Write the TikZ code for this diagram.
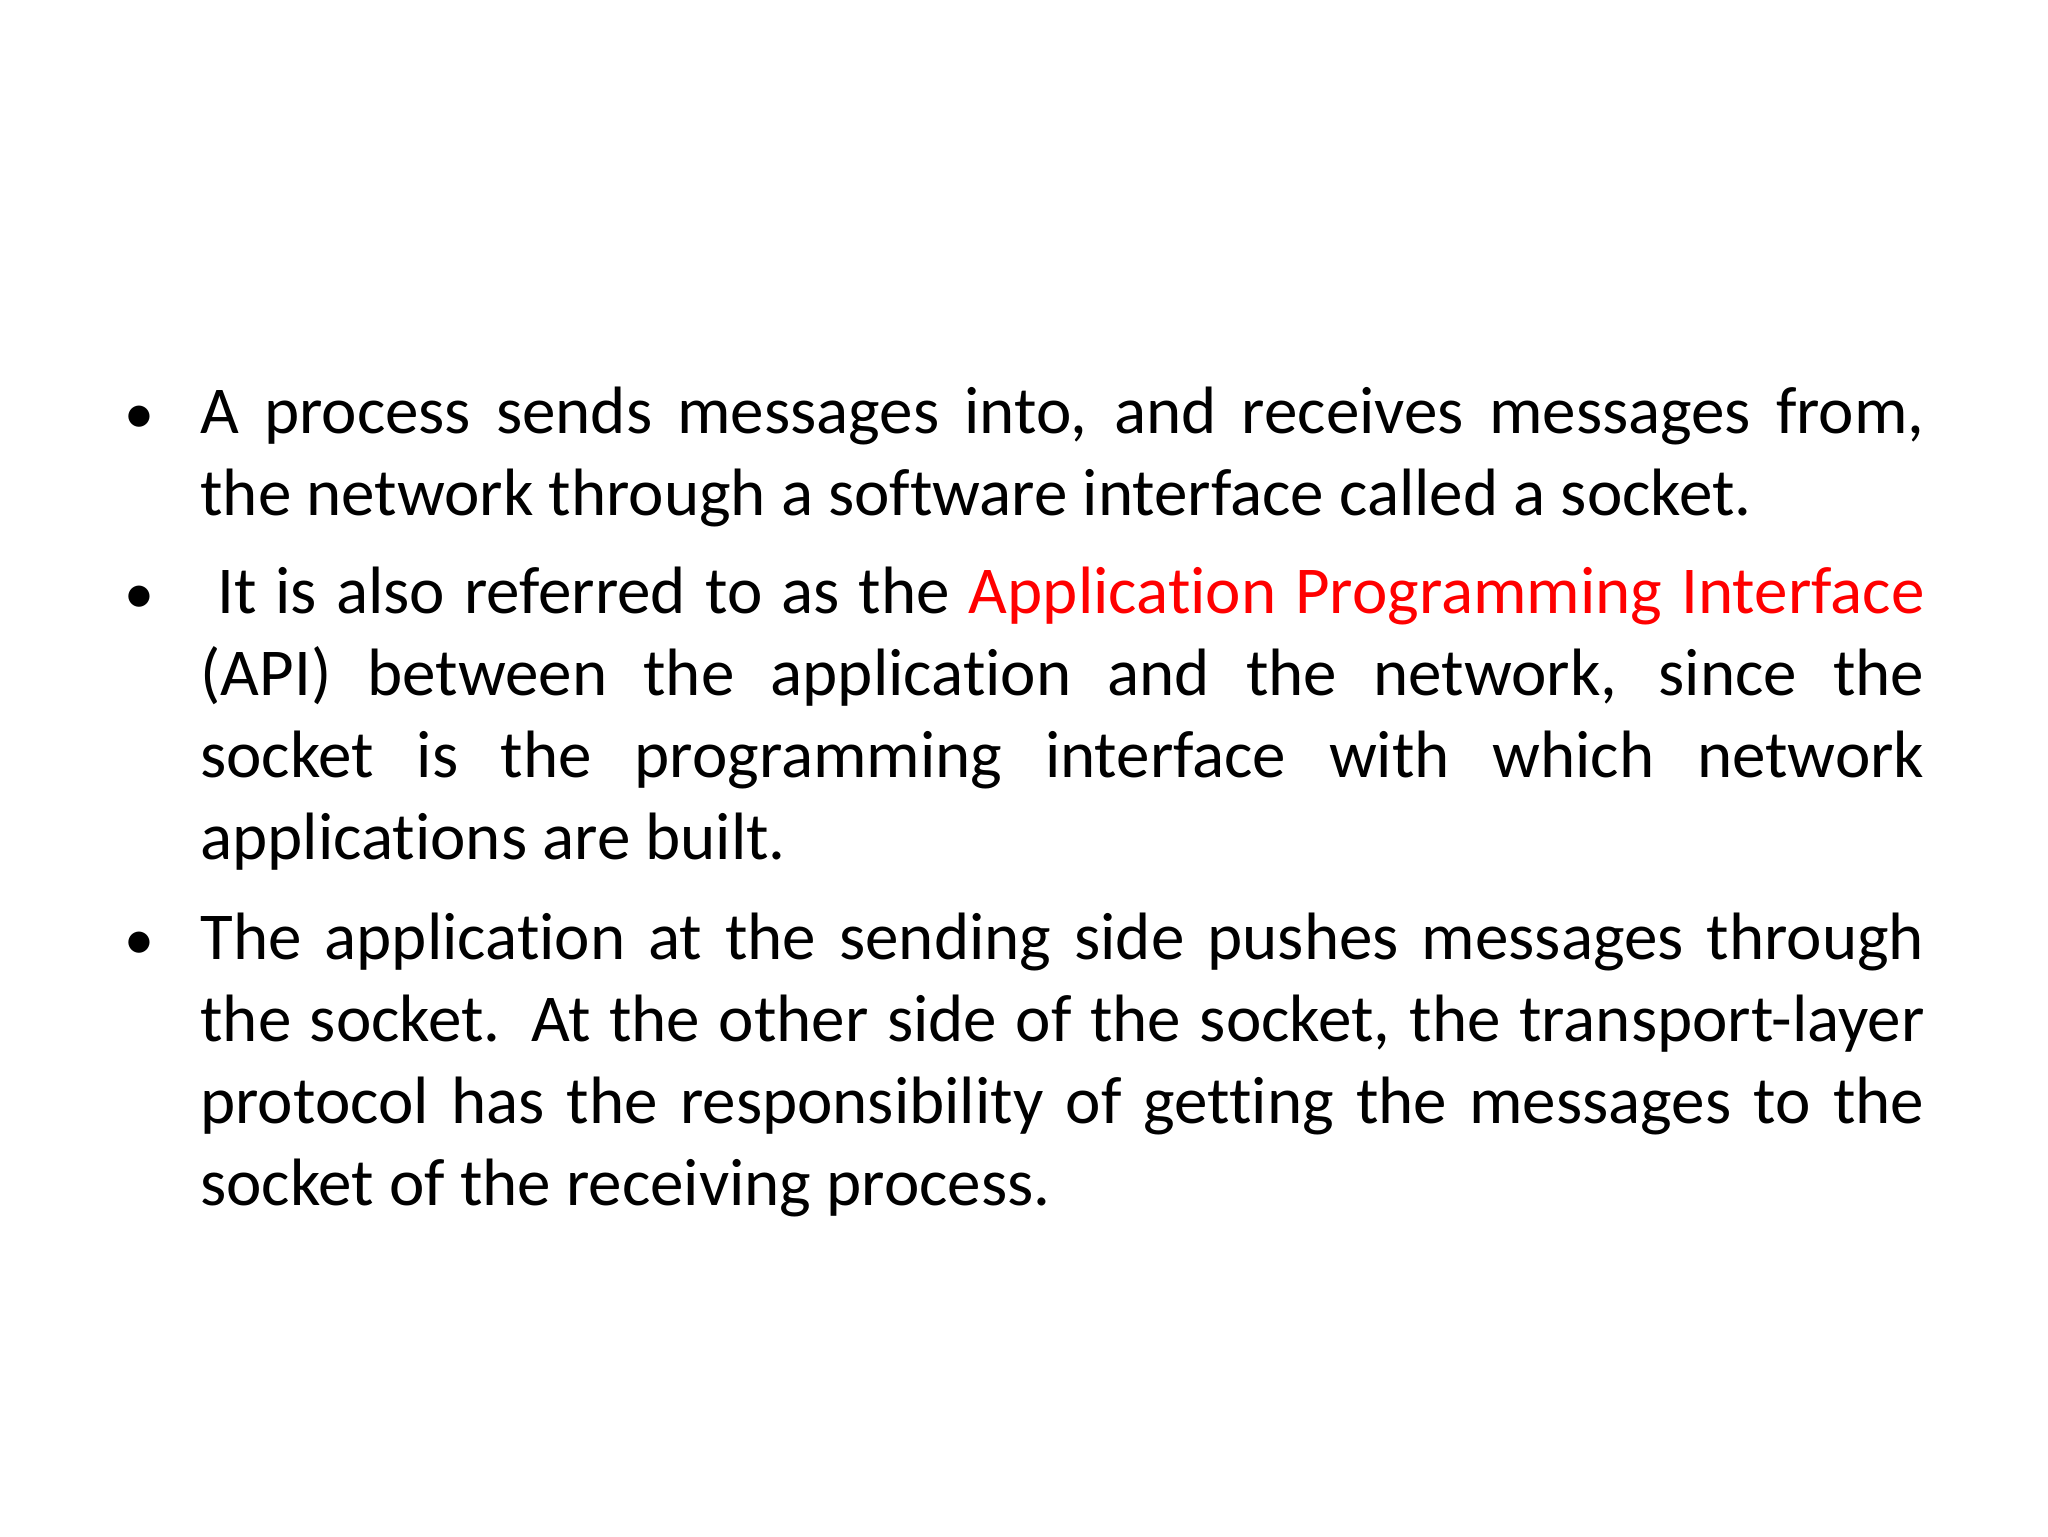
\documentclass[tikz,border=0pt]{standalone}
\usepackage{fontspec}
\setmainfont[Ligatures={NoCommon}]{Carlito}
\newcommand{\nohy}{\hyphenpenalty=10000\relax\exhyphenpenalty=10000\relax}
\begin{document}
\begin{tikzpicture}[x=1pt,y=1pt,
  para/.style={anchor=base west,inner sep=0pt,text width=862pt,align=justify,font=\fontsize{33.5}{41}\selectfont},
  bul/.style={anchor=base west,inner sep=0pt,font=\fontsize{30}{41}\selectfont}]
\useasboundingbox[fill=white] (0,0) rectangle (1024,768);
\node[bul] (b1) at (62,551) {•};
\node[bul] (b2) at (62,461) {•};
\node[bul] (b3) at (62,288) {•};
\node[para] (p1) at (100,551) {\nohy\strut A process sends messages into, and receives messages from,\linebreak the network through a software interface called a socket.};
\node[para] (p2) at (100,461) {\nohy\strut\hspace{0.25em}It is also referred to as the \textcolor{red}{Application Programming Interface}\linebreak (API) between the application and the network, since the\linebreak socket is the programming interface with which network\linebreak applications are built.};
\node[para] (p3) at (100,288) {\nohy\strut The application at the sending side pushes messages through\linebreak the socket. At the other side of the socket, the transport-layer\linebreak protocol has the responsibility of getting the messages to the\linebreak socket of the receiving process.};
\end{tikzpicture}
\end{document}
